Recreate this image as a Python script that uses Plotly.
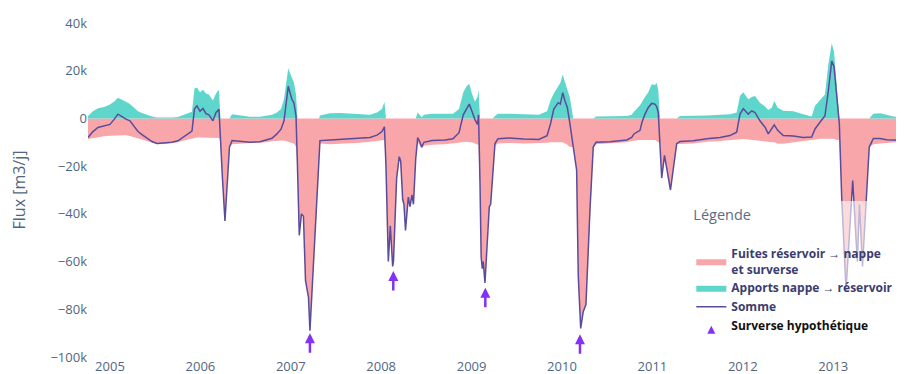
import plotly.graph_objects as go

# Time axis in decimal years
annee = [2004.757, 2004.812, 2004.867, 2004.934, 2005.000, 2005.044, 2005.088, 2005.133, 2005.177, 2005.221,
         2005.265, 2005.310, 2005.354, 2005.409, 2005.465, 2005.520, 2005.608, 2005.686, 2005.752, 2005.808,
         2005.863, 2005.907, 2005.935, 2005.962, 2005.996, 2006.029, 2006.062, 2006.095, 2006.139, 2006.173,
         2006.206, 2006.222, 2006.244, 2006.272, 2006.300, 2006.322, 2006.350, 2006.438, 2006.549, 2006.659,
         2006.726, 2006.792, 2006.847, 2006.892, 2006.925, 2006.952, 2006.972, 2006.997, 2007.013, 2007.035,
         2007.058, 2007.074, 2007.094, 2007.118, 2007.140, 2007.163, 2007.185, 2007.196, 2007.212, 2007.251,
         2007.290, 2007.312, 2007.323, 2007.434, 2007.544, 2007.655, 2007.765, 2007.876, 2007.954, 2008.009,
         2008.036, 2008.053, 2008.079, 2008.101, 2008.127, 2008.136, 2008.171, 2008.200, 2008.216, 2008.238,
         2008.252, 2008.269, 2008.300, 2008.319, 2008.341, 2008.357, 2008.382, 2008.404, 2008.429, 2008.448,
         2008.473, 2008.562, 2008.706, 2008.794, 2008.861, 2008.908, 2008.945, 2008.974, 2009.004, 2009.037,
         2009.065, 2009.077, 2009.093, 2009.106, 2009.118, 2009.129, 2009.148, 2009.174, 2009.196, 2009.211,
         2009.233, 2009.259, 2009.292, 2009.412, 2009.578, 2009.743, 2009.835, 2009.873, 2009.909, 2009.959,
         2009.982, 2010.008, 2010.033, 2010.059, 2010.088, 2010.125, 2010.162, 2010.180, 2010.207, 2010.235,
         2010.265, 2010.310, 2010.346, 2010.376, 2010.531, 2010.716, 2010.771, 2010.796, 2010.863, 2010.885,
         2010.918, 2010.955, 2010.992, 2011.029, 2011.047, 2011.065, 2011.084, 2011.103, 2011.134, 2011.200,
         2011.269, 2011.305, 2011.452, 2011.601, 2011.748, 2011.858, 2011.932, 2011.969, 2012.006, 2012.061,
         2012.099, 2012.135, 2012.190, 2012.246, 2012.282, 2012.320, 2012.348, 2012.386, 2012.448, 2012.559,
         2012.669, 2012.762, 2012.799, 2012.854, 2012.909, 2012.946, 2012.984, 2013.009, 2013.039, 2013.068,
         2013.094, 2013.142, 2013.216, 2013.267, 2013.291, 2013.324, 2013.399, 2013.444, 2013.518, 2013.592,
         2013.665, 2013.739]

# Fluxes in thousands of m3/day
fuites_k = [-8.6, -8.2, -7.8, -7.5, -7.3, -7.2, -7.0, -7.0, -7.1, -7.4,
            -7.8, -8.3, -8.8, -9.5, -10.3, -10.8, -10.7, -10.4, -10.0, -9.4,
            -8.8, -8.4, -8.2, -8.0, -8.0, -8.0, -8.0, -8.0, -8.0, -8.0,
            -8.2, -9.5, -25, -43, -25, -12, -10.8, -10.6, -10.6, -10.4,
            -10.0, -9.6, -9.3, -9.2, -9.2, -9.5, -9.5, -9.8, -10.0, -10.5,
            -12.0, -20, -49, -40, -41, -68, -73, -75, -89, -62,
            -35, -18, -10.5, -10.8, -10.7, -10.5, -10.2, -9.8, -9.5, -9.2,
            -9.0, -20, -60, -45, -62, -60, -25, -16, -18, -34,
            -36, -47, -33, -37, -32, -36, -17, -10, -11.5, -12.5,
            -11.5, -11.0, -10.8, -10.4, -10.0, -9.8, -9.8, -10.0, -10.0, -10.5,
            -11.0, -10.5, -27, -58, -63, -60, -69, -49, -37, -36,
            -24.5, -11.5, -10.5, -10.3, -10.5, -10.4, -10.2, -10.0, -10.0, -10.0,
            -10.0, -10.0, -10.5, -11.0, -12.0, -12, -21.7, -66, -88, -81,
            -78, -38, -12, -10.8, -10.5, -10.0, -9.5, -9.3, -9.0, -9.0,
            -9.0, -9.0, -9.0, -9.0, -9.5, -10.0, -10, -25, -15.5, -30,
            -10.6, -10.7, -10.5, -9.8, -9.5, -9.0, -8.8, -8.6, -8.6, -8.8,
            -9.0, -9.2, -9.5, -9.8, -10.0, -10.0, -10.0, -10.5, -10.6, -10.2,
            -9.5, -9.0, -8.7, -8.5, -8.5, -8.5, -8.5, -8.5, -9.0, -9.0,
            -33, -72, -26, -60, -36, -62, -12, -10.8, -10.5, -10.2,
            -9.8, -9.8]

apports_k = [1.0, 3.0, 4.3, 4.8, 5.8, 7.0, 8.7, 8.0, 7.0, 6.0,
             4.5, 3.0, 2.3, 1.5, 0.8, 0.4, 0.3, 0.4, 0.6, 1.5,
             2.3, 2.8, 12.5, 13.0, 11.0, 12.0, 10.5, 10.0, 7.5, 10.5,
             12.0, 0, 0, 0, 0, 0, 1.8, 1.2, 0.7, 0.7,
             1.0, 1.5, 2.5, 4.0, 8.0, 16.0, 21.0, 18.5, 17.0, 15.0,
             10.0, 0, 0, 0, 0, 0, 0, 0, 0, 0,
             0, 0, 1.2, 2.2, 2.3, 2.0, 1.5, 1.5, 2.5, 4.0,
             7.0, 0, 0, 0, 0, 0, 0, 0, 0, 0,
             0, 0, 0, 0, 0, 0, 0, 2.5, 1.5, 0.5,
             1.5, 2.0, 2.0, 2.0, 4.0, 11.0, 13.5, 14.5, 10.5, 7.0,
             9.0, 12.0, 0, 0, 0, 0, 0, 0, 0, 0,
             0, 1.0, 2.0, 2.0, 1.8, 1.5, 3.0, 7.5, 10.5, 13.5,
             15.0, 18.4, 15.0, 12.0, 8.7, 0, 0, 0, 0, 0,
             0, 0, 0, 0.8, 0.8, 1.0, 1.5, 2.8, 5.5, 7.0,
             9.0, 11.0, 14.3, 14.0, 15.0, 12.0, 0, 0, 0, 0,
             0, 1.0, 1.0, 1.2, 1.5, 1.8, 2.5, 9.5, 11.0, 8.0,
             9.0, 9.4, 6.6, 5.0, 3.5, 4.5, 7.3, 4.5, 3.2, 3.0,
             1.8, 0.8, 5.3, 7.5, 10.0, 22.5, 31.5, 28.0, 14.0, 0,
             0, 0, 0, 0, 0, 0, 0, 2.0, 2.2, 1.5,
             0.8, 0.5]

somme_k = [-8.0, -5.5, -3.8, -3.0, -2.5, -0.5, 1.8, 0.8, -0.3, -1.0,
           -3.5, -5.5, -6.8, -8.3, -9.7, -10.5, -10.3, -10.0, -9.4, -8.0,
           -6.5, -5.3, 4.0, 5.3, 3.0, 4.2, 2.0, 1.5, -1.0, 2.5,
           3.8, -9.5, -25, -43, -25, -12, -9.3, -9.5, -10.0, -9.8,
           -9.2, -8.3, -6.5, -4.5, -1.0, 6.5, 13.5, 10.0, 8.0, 6.5,
           1.0, -20, -49, -40, -41, -68, -73, -75, -89, -62,
           -35, -18, -9.3, -9.0, -8.8, -8.6, -8.4, -8.0, -7.0, -5.5,
           -3.5, -20, -60, -45, -62, -60, -25, -16, -18, -34,
           -36, -47, -33, -37, -32, -36, -17, -8, -10, -12,
           -10, -9.3, -9.0, -8.5, -6.0, 1.5, 4.0, 6.0, 3.0, -0.5,
           -2.5, 1.5, -27, -58, -63, -60, -69, -49, -37, -36,
           -24.5, -10.5, -8.5, -8.2, -8.6, -8.8, -7.2, -2.3, 3.9, 6.6,
           6.0, 10.8, 7.3, 4.6, -2.3, -12, -21.7, -66, -88, -81,
           -78, -38, -12, -10.0, -9.8, -9.0, -8.0, -6.5, -5.0, -1.6,
           1.8, 4.6, 6.3, 6.0, 5.0, 2.5, -10, -25, -15.5, -30,
           -10.6, -9.7, -9.4, -8.5, -8.0, -7.2, -5.8, 1.8, 4.1, 1.8,
           3.2, 2.5, -1.0, -3.7, -6.5, -4.4, -2.7, -5.0, -7.2, -7.4,
           -8.0, -7.8, -4.4, -1.6, 1.1, 11.5, 24.0, 21.8, 10.0, -2.3,
           -33, -72, -26, -60, -36, -62, -12, -8.4, -8.4, -8.9,
           -9.0, -9.1]

# Hypothetical overflow markers (arrow tips)
surverse_annee = [2007.212, 2008.134, 2009.152, 2010.199]
surverse_k = [-90.0, -64.0, -71.0, -90.5]

annees_ticks = [2005, 2006, 2007, 2008, 2009, 2010, 2011, 2012, 2013]

fuites = [v * 1000 for v in fuites_k]
apports = [v * 1000 for v in apports_k]
somme = [v * 1000 for v in somme_k]
surverse = [v * 1000 for v in surverse_k]

PINK = "#f8a6aa"
TEAL = "#5fd6cc"
LINE = "#5a4b9c"
VIOLET = "#8431f5"
TXT = "#506784"

fig = go.Figure()
fig.add_trace(go.Scatter(
    x=annee, y=fuites, mode="lines", fill="tozeroy",
    line=dict(width=0, color=PINK), fillcolor=PINK,
    name="<b>Fuites réservoir → nappe<br>et surverse</b>"))
fig.add_trace(go.Scatter(
    x=annee, y=apports, mode="lines", fill="tozeroy",
    line=dict(width=0, color=TEAL), fillcolor=TEAL,
    name="<b>Apports nappe → réservoir</b>"))
fig.add_trace(go.Scatter(
    x=annee, y=somme, mode="lines",
    line=dict(width=1.5, color=LINE),
    name="<b>Somme</b>"))
fig.add_trace(go.Scatter(
    x=[None], y=[None], mode="markers",
    marker=dict(symbol="arrow-up", size=8, color=VIOLET),
    name='<span style="color:#111111"><b>Surverse hypothétique</b></span>'))

for xa, ya in zip(surverse_annee, surverse):
    fig.add_annotation(x=xa, y=ya, xref="x", yref="y", text="", showarrow=True,
                       ax=0, ay=21, arrowhead=2, arrowsize=0.8, arrowwidth=2.5,
                       arrowcolor=VIOLET, standoff=0)

fig.update_layout(
    width=896, height=366,
    margin=dict(l=80, r=4, t=15, b=17),
    paper_bgcolor="white", plot_bgcolor="white",
    font=dict(family="Open Sans, Verdana, Arial, sans-serif", color=TXT, size=13),
    showlegend=True,
    legend=dict(
        x=0.743, y=0.466, xanchor="left", yanchor="top",
        bgcolor="rgba(255,255,255,0.6)",
        font=dict(size=12, color="#3b3d6e"),
        title=dict(text="Légende<br> ", font=dict(size=14.5, color="#5d6b85")),
        tracegroupgap=0,
    ),
    xaxis=dict(
        range=[annee[0], annee[-1]],
        tickmode="array", tickvals=annees_ticks,
        ticktext=[str(a) for a in annees_ticks],
        showgrid=False, zeroline=False, showline=False, ticks="",
        tickfont=dict(size=13, color=TXT), automargin=False,
    ),
    yaxis=dict(
        range=[-100000, 40000], dtick=20000,
        showgrid=False, zeroline=False, showline=False, ticks="",
        tickfont=dict(size=13, color=TXT),
        title=dict(text="Flux [m3/j]", font=dict(size=16, color=TXT), standoff=22),
        automargin=False,
    ),
)

fig.write_html("out.html")
